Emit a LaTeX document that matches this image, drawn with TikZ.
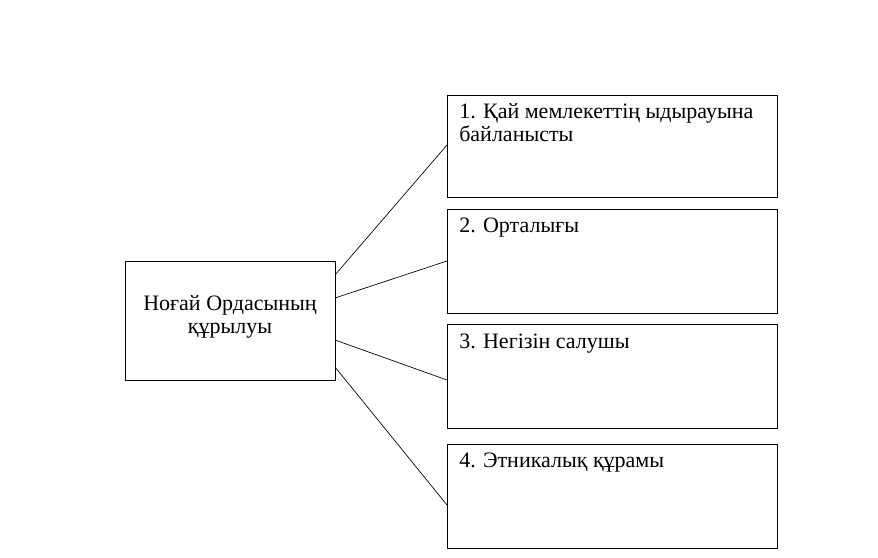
\documentclass[tikz,border=0pt]{standalone}
\usepackage{fontspec}
\setmainfont{Liberation Serif}
\usetikzlibrary{calc}
\begin{document}
\begin{tikzpicture}[x=0.75pt,y=-0.75pt,
  box/.style={draw,line width=0.75pt},
  lbl/.style={anchor=north west,align=left,font=\fontsize{16.5}{17.5}\selectfont,inner sep=0pt},
  con/.style={line width=0.5pt}]
\useasboundingbox (0,0) rectangle (878,557);
\draw[box] (125,261) rectangle (335,380);
\node[align=center,font=\fontsize{16.5}{17.5}\selectfont,inner sep=0pt] (L) at (230,317) {Ноғай Ордасының\\құрылуы};
\draw[box] (447,95) rectangle (777,197);
\draw[box] (447,209) rectangle (777,313);
\draw[box] (447,324) rectangle (777,428);
\draw[box] (447,444) rectangle (777,548);
\node[lbl] (t1) at (459,103) {1. Қай мемлекеттің ыдырауына\\байланысты};
\node[lbl] (t2) at (459,218) {2. Орталығы};
\node[lbl] (t3) at (459,334) {3. Негізін салушы};
\node[lbl] (t4) at (459,453) {4. Этникалық құрамы};
\coordinate (a1) at (335,275); \coordinate (b1) at (447,145);
\coordinate (a2) at (335,298); \coordinate (b2) at (447,261);
\coordinate (a3) at (335,340); \coordinate (b3) at (447,380);
\coordinate (a4) at (335,367); \coordinate (b4) at (447,505);
\draw[con] (a1) -- (b1);
\draw[con] (a2) -- (b2);
\draw[con] (a3) -- (b3);
\draw[con] (a4) -- (b4);
\end{tikzpicture}
\end{document}
